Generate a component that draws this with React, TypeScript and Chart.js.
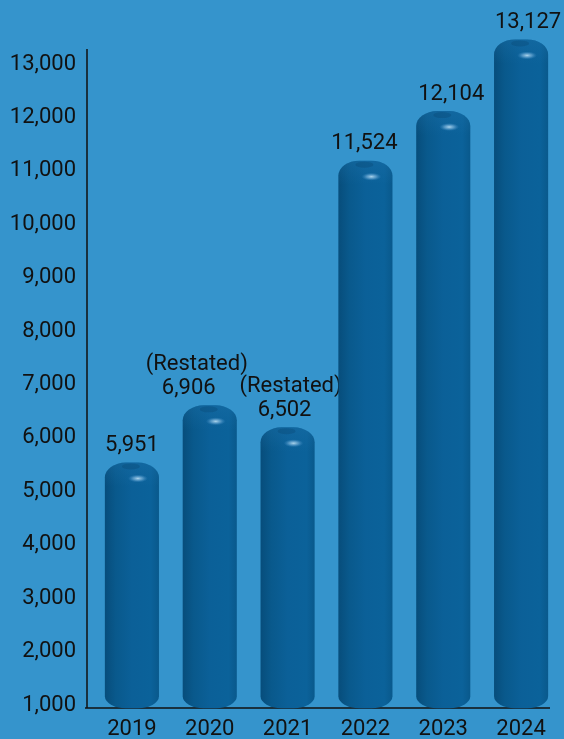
import React, { useEffect, useRef } from "react";
import { Chart, registerables } from "chart.js";

Chart.register(...registerables);

// ---- data ----
const years = ["2019", "2020", "2021", "2022", "2023", "2024"];
const reportedValues = [5951, 6906, 6502, 11524, 12104, 13127];
const notes = ["", "(Restated)", "(Restated)", "", "", ""];
// heights of the drawn cylinders as pictured (the infographic is not to scale)
const barTops = [5540, 6610, 6200, 11190, 12120, 13460];
const yTickValues = [1000, 2000, 3000, 4000, 5000, 6000, 7000, 8000, 9000, 10000, 11000, 12000, 13000];

// ---- styling ----
const BG = "#3594cc";
const TEXT = "#111111";
const FONT = "Roboto, 'DejaVu Sans', sans-serif";
const FS = 22;
// per-label horizontal nudges [note line, value line]
const labelDx = [
  [0, 0],
  [-13, -21],
  [3, -3],
  [0, -1],
  [0, 8],
  [0, 7],
];

const fmt = (v: number) => v.toLocaleString("en-US");

const cylinderPlugin = {
  id: "cylinders",
  beforeDatasetsDraw(chart: any) {
    const { ctx, chartArea } = chart;
    ctx.save();
    ctx.strokeStyle = TEXT;
    ctx.lineWidth = 1.5;
    ctx.beginPath();
    ctx.moveTo(chartArea.left - 6, chartArea.top - 15);
    ctx.lineTo(chartArea.left - 6, chartArea.bottom + 3);
    ctx.moveTo(chartArea.left - 8, chartArea.bottom + 3);
    ctx.lineTo(chartArea.right - 10, chartArea.bottom + 3);
    ctx.stroke();
    ctx.restore();
  },
  afterDatasetsDraw(chart: any) {
    const { ctx } = chart;
    const meta = chart.getDatasetMeta(0);
    meta.data.forEach((el: any, i: number) => {
      const { x, y, base, width } = el.getProps(["x", "y", "base", "width"], true);
      const l = x - width / 2;
      const r = x + width / 2;
      const t = y;
      const b = base;
      const rx = 21;
      const ry = 15;
      const ryb = 12;
      ctx.save();
      ctx.beginPath();
      ctx.moveTo(l, t + ry);
      ctx.ellipse(l + rx, t + ry, rx, ry, 0, Math.PI, 1.5 * Math.PI);
      ctx.lineTo(r - rx, t);
      ctx.ellipse(r - rx, t + ry, rx, ry, 0, 1.5 * Math.PI, 2 * Math.PI);
      ctx.lineTo(r, b - ryb);
      ctx.ellipse(r - rx, b - ryb, rx, ryb, 0, 0, 0.5 * Math.PI);
      ctx.lineTo(l + rx, b);
      ctx.ellipse(l + rx, b - ryb, rx, ryb, 0, 0.5 * Math.PI, Math.PI);
      ctx.closePath();
      const g = ctx.createLinearGradient(l, 0, r, 0);
      g.addColorStop(0, "#074d7b");
      g.addColorStop(0.2, "#09598c");
      g.addColorStop(0.5, "#0b6098");
      g.addColorStop(0.85, "#0b629a");
      g.addColorStop(1, "#09598c");
      ctx.fillStyle = g;
      ctx.fill();
      ctx.clip();
      // cap shading
      const cg = ctx.createLinearGradient(0, t, 0, t + 24);
      cg.addColorStop(0, "rgba(30,115,172,0.35)");
      cg.addColorStop(1, "rgba(30,115,172,0)");
      ctx.fillStyle = cg;
      ctx.fillRect(l, t, width, 24);
      // dimple
      ctx.fillStyle = "rgba(0,45,80,0.18)";
      ctx.beginPath();
      ctx.ellipse(x - 1, t + 4, 9, 3, 0, 0, Math.PI * 2);
      ctx.fill();
      // highlight
      ctx.translate(x + 6, t + 16);
      ctx.scale(1, 0.4);
      const hg = ctx.createRadialGradient(0, 0, 0, 0, 0, 10);
      hg.addColorStop(0, "rgba(190,225,245,0.9)");
      hg.addColorStop(0.5, "rgba(130,185,225,0.55)");
      hg.addColorStop(1, "rgba(60,140,200,0)");
      ctx.fillStyle = hg;
      ctx.beginPath();
      ctx.arc(0, 0, 10, 0, Math.PI * 2);
      ctx.fill();
      ctx.restore();

      // labels
      ctx.save();
      ctx.fillStyle = TEXT;
      ctx.font = `${FS}px ${FONT}`;
      ctx.textAlign = "center";
      ctx.textBaseline = "middle";
      const vy = t - 17;
      ctx.fillText(fmt(reportedValues[i]), x + labelDx[i][1], vy);
      if (notes[i]) ctx.fillText(notes[i], x + labelDx[i][0], vy - 24);
      ctx.restore();
    });
  },
};

export default function App() {
  const ref = useRef<HTMLCanvasElement | null>(null);
  useEffect(() => {
    document.body.style.margin = "0";
    document.body.style.background = BG;
    const chart = new Chart(ref.current as HTMLCanvasElement, {
      type: "bar",
      data: {
        labels: years,
        datasets: [
          {
            data: barTops,
            base: 940,
            backgroundColor: "rgba(0,0,0,0)",
            borderWidth: 0,
            barPercentage: 0.695,
            categoryPercentage: 1,
            clip: false as any,
          } as any,
        ],
      },
      options: {
        animation: false,
        responsive: true,
        maintainAspectRatio: false,
        layout: { padding: { top: 64, right: 4, left: 0, bottom: 0 } },
        plugins: { legend: { display: false }, tooltip: { enabled: false } },
        scales: {
          x: {
            grid: { display: false, drawTicks: false },
            border: { display: false },
            ticks: { color: TEXT, font: { family: FONT, size: FS }, padding: 11 },
            afterFit: (s: any) => {
              s.height = 34;
            },
          },
          y: {
            min: 1000,
            max: 13000,
            grid: { display: false, drawTicks: false },
            border: { display: false },
            afterBuildTicks: (s: any) => {
              s.ticks = yTickValues.map((v) => ({ value: v }));
            },
            ticks: {
              color: TEXT,
              font: { family: FONT, size: FS },
              padding: 17,
              callback: (v: any) => fmt(Number(v)),
            },
            afterFit: (s: any) => {
              s.width = 93;
            },
          },
        },
      },
      plugins: [cylinderPlugin],
    });
    return () => chart.destroy();
  }, []);
  return (
    <div style={{ position: "fixed", left: 0, top: 0, width: 564, height: 739, background: BG }}>
      <canvas ref={ref} />
    </div>
  );
}
